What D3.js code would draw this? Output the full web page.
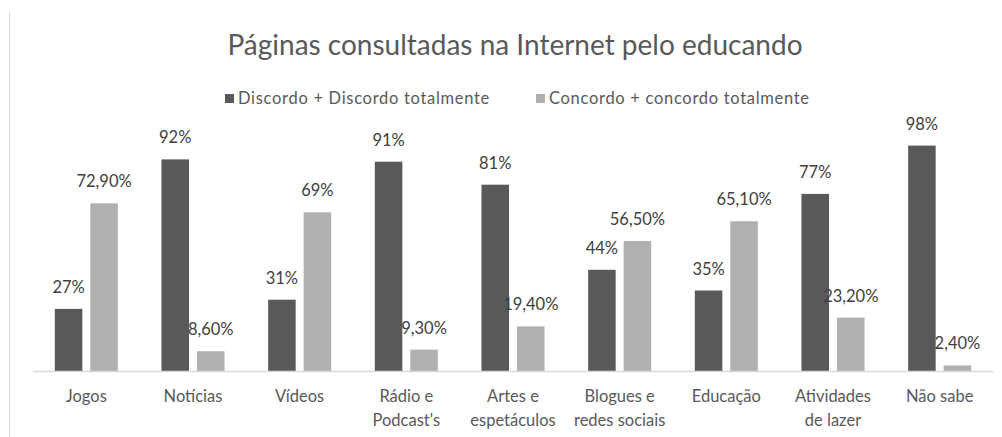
<!DOCTYPE html>
<html>
<head>
<meta charset="utf-8">
<script src="https://cdn.jsdelivr.net/npm/d3@7"></script>
<style>
  body { margin: 0; background: #fff; }
  svg { display: block; font-family: Lato, "Open Sans", sans-serif; }
</style>
</head>
<body>
<div id="chart"></div>
<script>
// dados do gráfico
var categorias = [
  ["Jogos"], ["Notícias"], ["Vídeos"], ["Rádio e", "Podcast's"],
  ["Artes e", "espetáculos"], ["Blogues e", "redes sociais"], ["Educação"],
  ["Atividades", "de lazer"], ["Não sabe"]
];
var discordo = [27, 92, 31, 91, 81, 44, 35, 77, 98];
var concordo = [72.9, 8.6, 69, 9.3, 19.4, 56.5, 65.1, 23.2, 2.4];
var rotulosDiscordo = ["27%", "92%", "31%", "91%", "81%", "44%", "35%", "77%", "98%"];
var rotulosConcordo = ["72,90%", "8,60%", "69%", "9,30%", "19,40%", "56,50%", "65,10%", "23,20%", "2,40%"];
var series = ["Discordo + Discordo totalmente", "Concordo + concordo totalmente"];
var cores = ["#595959", "#b0b0b0"];

var width = 1002, height = 437;
var plot = { left: 33, right: 993, top: 141, bottom: 371 };

var svg = d3.select("#chart").append("svg")
  .attr("width", width).attr("height", height);

// linha vertical da moldura à esquerda
svg.append("line")
  .attr("x1", 9.5).attr("x2", 9.5).attr("y1", 12).attr("y2", height)
  .attr("stroke", "#d9d9d9").attr("stroke-width", 1);

// título
svg.append("text")
  .attr("x", 515).attr("y", 55)
  .attr("text-anchor", "middle")
  .attr("font-size", 28)
  .attr("fill", "#595959")
  .text("Páginas consultadas na Internet pelo educando");

// escalas
var x0 = d3.scaleBand()
  .domain(d3.range(categorias.length))
  .range([plot.left, plot.right])
  .paddingInner(0).paddingOuter(0);

var x1 = d3.scaleBand()
  .domain([0, 1])
  .range([0, x0.bandwidth()])
  .paddingInner(0.225).paddingOuter(0.614);

var y = d3.scaleLinear().domain([0, 100]).range([plot.bottom, plot.top]);

var dados = [discordo, concordo];
var rotulos = [rotulosDiscordo, rotulosConcordo];

// barras
dados.forEach(function(serie, s){
  svg.append("g").selectAll("rect")
    .data(serie)
    .enter()
    .append("rect")
    .attr("x", function(d, i){ return x0(i) + x1(s); })
    .attr("y", function(d){ return y(d); })
    .attr("width", x1.bandwidth())
    .attr("height", function(d){ return y(0) - y(d); })
    .attr("fill", cores[s]);

  svg.append("g").selectAll("text")
    .data(serie)
    .enter()
    .append("text")
    .attr("x", function(d, i){ return x0(i) + x1(s) + x1.bandwidth() / 2; })
    .attr("y", function(d){ return y(d) - 16; })
    .attr("text-anchor", "middle")
    .attr("font-size", 16.5)
    .attr("fill", "#404040")
    .text(function(d, i){ return rotulos[s][i]; });
});

// eixo x
var eixo = svg.append("g")
  .attr("transform", "translate(0," + plot.bottom + ")")
  .call(d3.axisBottom(x0).tickSize(0).tickFormat(""));
eixo.select(".domain").attr("stroke", "#d9d9d9").attr("stroke-width", 1.5);

// rótulos das categorias (em duas linhas)
var cat = svg.append("g").selectAll("text")
  .data(categorias)
  .enter()
  .append("text")
  .attr("x", function(d, i){ return x0(i) + x0.bandwidth() / 2; })
  .attr("y", plot.bottom + 31)
  .attr("text-anchor", "middle")
  .attr("font-size", 16.5)
  .attr("fill", "#595959");
cat.selectAll("tspan")
  .data(function(d){ return d; })
  .enter()
  .append("tspan")
  .attr("x", function(){ return d3.select(this.parentNode).attr("x"); })
  .attr("dy", function(d, i){ return i === 0 ? 0 : 24; })
  .text(function(d){ return d; });

// legenda
var legendaX = [225, 536];
series.forEach(function(nome, s){
  svg.append("rect")
    .attr("x", legendaX[s]).attr("y", 94)
    .attr("width", 9).attr("height", 9)
    .attr("fill", cores[s]);
  svg.append("text")
    .attr("x", legendaX[s] + 13).attr("y", 104)
    .attr("font-size", 16.5)
    .attr("letter-spacing", 0.7)
    .attr("fill", "#595959")
    .text(nome);
});
</script>
</body>
</html>
